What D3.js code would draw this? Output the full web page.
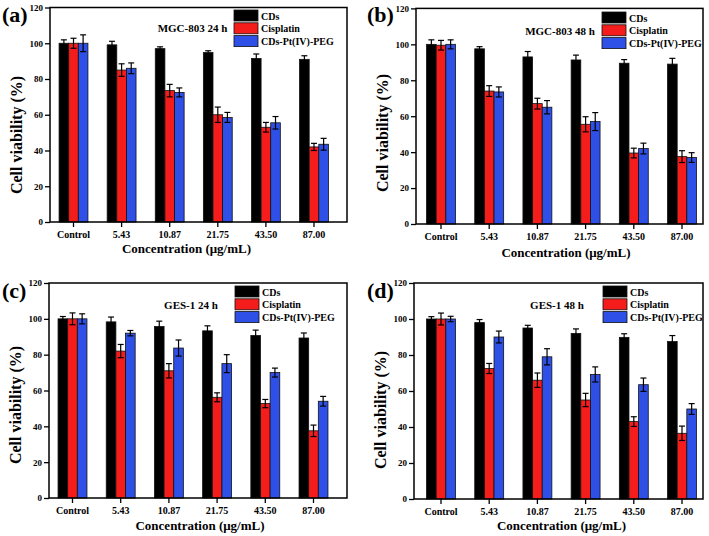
<!DOCTYPE html>
<html><head><meta charset="utf-8">
<script src="https://cdn.jsdelivr.net/npm/d3@7"></script>
<style>body{margin:0;background:#fff}svg{display:block}</style>
</head><body>
<script>
const categories = ["Control","5.43","10.87","21.75","43.50","87.00"];
const seriesNames = ["CDs","Cisplatin","CDs-Pt(IV)-PEG"];
const yTicks = [0,20,40,60,80,100,120];
const panelLabels = ["(a)","(b)","(c)","(d)"];
const panelTitles = ["MGC-803 24 h","MGC-803 48 h","GES-1 24 h","GES-1 48 h"];
// values per panel: [CDs, Cisplatin, CDs-Pt(IV)-PEG], each over categories
const valuesA = [[100,99.1,97,94.8,91.5,91],[100,85,73.5,60,53,42],[100,86,72.5,58.5,55.5,43.5]];
const errorsA = [[1.9,2,1,1,2.5,2],[2.8,3.5,3.5,4.3,2.7,2],[4.7,3,2.5,2.8,3.5,3.3]];
const valuesB = [[100,97.5,93,91.3,89.5,89],[99.5,74,67,55.5,39.5,37.5],[100,73.5,65,57,42,37]];
const errorsB = [[2.5,1.2,3,2.7,2,3.2],[2.7,3,3,4.2,2.7,3.3],[2.5,2.8,3.7,5,3,2.7]];
const valuesC = [[100,98.3,95.7,93.3,90.7,89.3],[100,82,71,56.2,52.7,37.5],[100,92,83.7,75,70,54]];
const errorsC = [[1.3,2.7,3,2.8,3,2.8],[3.3,3.7,4,2.5,2.3,3.2],[2.8,1.5,4.5,5,2.5,2.7]];
const valuesD = [[100,98,95,92,89.8,87.5],[100,72.5,66,55,43,36.5],[100,90,79,69.2,63.5,50]];
const errorsD = [[1.3,1.7,1.5,2.5,2,3.3],[3.3,2.8,4,3.7,2.7,4],[1.5,3.3,4.5,4.2,3.7,3]];
const colors = ["#000000","#f51c1c","#2f50e6"];

const panelValues = [valuesA,valuesB,valuesC,valuesD];
const panelErrors = [errorsA,errorsB,errorsC,errorsD];

// layout (pixel geometry, not data)
const layout = [
  {left:50,right:347,y0:222,yTop:7.5,c0:73.5,step:48.1,legX:234,legY:10,titleX:192.5,titleY:32,labX:2,labY:22,ytX:22,ytY:135,xtX:186.5,xtY:253},
  {left:416,right:703,y0:224,yTop:8.4,c0:441,step:48.2,legX:602,legY:12,titleX:560,titleY:35,labX:367,labY:22,ytX:388,ytY:133,xtX:566,xtY:257},
  {left:49,right:347,y0:498,yTop:283,c0:72.5,step:48.2,legX:235,legY:286,titleX:191,titleY:309,labX:2,labY:298,ytX:21,ytY:405,xtX:200,xtY:530},
  {left:414,right:703,y0:499,yTop:283,c0:441,step:48.2,legX:603,legY:286,titleX:557,titleY:309,labX:367,labY:298,ytX:386,ytY:410,xtX:561.5,xtY:530}
];

const FONT = "\"Liberation Serif\",\"Times New Roman\",serif";
const svg = d3.select("body").append("svg").attr("width",709).attr("height",536)
  .attr("font-family",FONT).attr("font-weight","bold");
svg.append("rect").attr("width",709).attr("height",536).attr("fill","#fff");

layout.forEach((L,pi)=>{
  const g = svg.append("g");
  const n = categories.length;
  const x = d3.scaleBand().domain(categories)
    .range([L.c0 - L.step/2, L.c0 + L.step*(n-0.5)])
    .paddingInner(0.4).paddingOuter(0.2);
  const xs = d3.scaleBand().domain(seriesNames).range([0,x.bandwidth()]);
  const y = d3.scaleLinear().domain([0,120]).range([L.y0,L.yTop]);

  const vals = panelValues[pi], errs = panelErrors[pi];
  seriesNames.forEach((s,si)=>{
    const data = categories.map((c,ci)=>({c,v:vals[si][ci],e:errs[si][ci]}));
    g.selectAll(null).data(data).enter().append("rect")
      .attr("x",d=>x(d.c)+xs(s)).attr("width",xs.bandwidth())
      .attr("y",d=>y(d.v)).attr("height",d=>y(0)-y(d.v))
      .attr("fill",colors[si]).attr("stroke","#111").attr("stroke-width",0.8);
  });
  seriesNames.forEach((s,si)=>{
    const data = categories.map((c,ci)=>({c,v:vals[si][ci],e:errs[si][ci]}));
    const eg = g.selectAll(null).data(data).enter().append("g")
      .attr("stroke","#000").attr("stroke-width",1.2);
    const cx = d=>x(d.c)+xs(s)+xs.bandwidth()/2;
    eg.append("line").attr("x1",cx).attr("x2",cx).attr("y1",d=>y(d.v+d.e)).attr("y2",d=>y(d.v-d.e));
    eg.append("line").attr("x1",d=>cx(d)-3).attr("x2",d=>cx(d)+3).attr("y1",d=>y(d.v+d.e)).attr("y2",d=>y(d.v+d.e));
    eg.append("line").attr("x1",d=>cx(d)-3).attr("x2",d=>cx(d)+3).attr("y1",d=>y(d.v-d.e)).attr("y2",d=>y(d.v-d.e));
  });

  // frame
  g.append("rect").attr("x",L.left).attr("y",L.yTop).attr("width",L.right-L.left).attr("height",L.y0-L.yTop)
    .attr("fill","none").attr("stroke","#000").attr("stroke-width",1.5);

  // y axis
  const ya = g.append("g").attr("transform",`translate(${L.left},0)`)
    .call(d3.axisLeft(y).tickValues(yTicks).tickSize(5).tickPadding(2).tickFormat(d3.format("d")));
  ya.select(".domain").remove();
  ya.selectAll("line").attr("stroke","#000").attr("stroke-width",1.3);
  ya.selectAll("text").attr("fill","#000").attr("font-size",9).attr("font-family",FONT).attr("font-weight","bold");

  // x axis
  const xa = g.append("g").attr("transform",`translate(0,${L.y0})`)
    .call(d3.axisBottom(x).tickSize(5).tickPadding(3));
  xa.select(".domain").remove();
  xa.selectAll("line").attr("stroke","#000").attr("stroke-width",1.3);
  xa.selectAll("text").attr("fill","#000").attr("dy",null).attr("y",16)
    .attr("font-size",10).attr("font-family",FONT).attr("font-weight","bold");

  // legend
  seriesNames.forEach((s,si)=>{
    const ly = L.legY + si*12.8;
    g.append("rect").attr("x",L.legX).attr("y",ly).attr("width",24).attr("height",11)
      .attr("fill",colors[si]).attr("stroke","#111").attr("stroke-width",0.8);
    g.append("text").attr("x",L.legX+27).attr("y",ly+9.5).text(s)
      .attr("font-size",10).attr("fill","#000");
  });

  g.append("text").attr("x",L.titleX).attr("y",L.titleY).attr("text-anchor","middle")
    .attr("font-size",11).text(panelTitles[pi]);
  g.append("text").attr("x",L.labX).attr("y",L.labY).attr("font-size",22).text(panelLabels[pi]);
  g.append("text").attr("transform",`translate(${L.ytX},${L.ytY}) rotate(-90)`).attr("text-anchor","middle")
    .attr("font-size",16).text("Cell viability (%)");
  g.append("text").attr("x",L.xtX).attr("y",L.xtY).attr("text-anchor","middle")
    .attr("font-size",13).text("Concentration (μg/mL)");
});
</script>
</body></html>
